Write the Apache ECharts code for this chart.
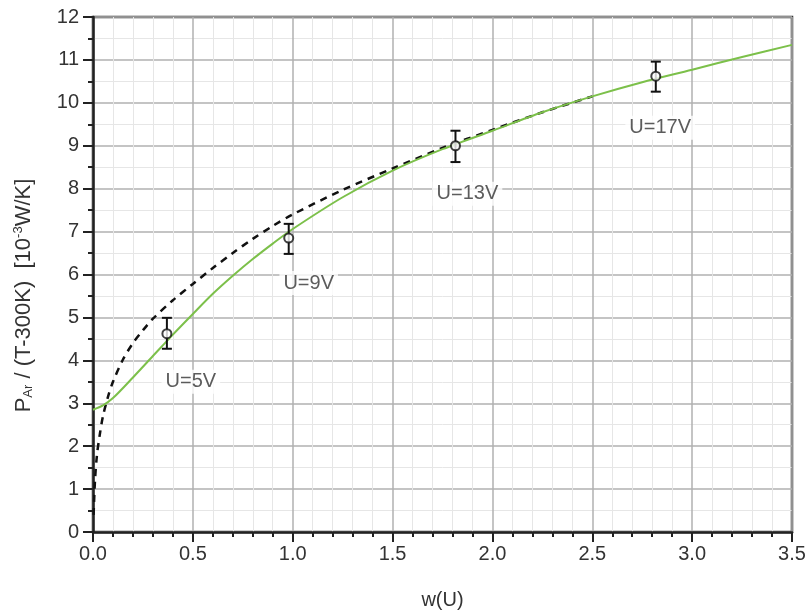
<!DOCTYPE html>
<html>
<head>
<meta charset="utf-8">
<script src="https://cdn.jsdelivr.net/npm/echarts@6/dist/echarts.min.js"></script>
<style>
  html, body { margin: 0; padding: 0; background: #fff; }
  #chart { width: 810px; height: 615px; }
</style>
</head>
<body>
<div id="chart"></div>
<script>
// measured points with error bars
const pointX = [0.37, 0.98, 1.815, 2.818]
const pointY = [4.62, 6.85, 9.0, 10.62]
const errLow = [4.27, 6.48, 8.62, 10.26]
const errHigh = [4.99, 7.18, 9.35, 10.96]

// voltage labels
const labelText = ['U=5V', 'U=9V', 'U=13V', 'U=17V']
const labelX = [0.49, 1.08, 1.875, 2.84]
const labelY = [3.5, 5.8, 7.88, 9.42]

// green fit curve
const fitX = [0, 0.05, 0.1, 0.2, 0.3, 0.4, 0.5, 0.6, 0.7, 0.8, 0.9, 1.0, 1.25, 1.5, 1.75, 2.0, 2.25, 2.5, 2.75, 3.0, 3.25, 3.5]
const fitY = [2.85, 2.95, 3.12, 3.6, 4.1, 4.6, 5.08, 5.55, 5.97, 6.36, 6.72, 7.06, 7.8, 8.42, 8.92, 9.35, 9.78, 10.15, 10.48, 10.77, 11.07, 11.35]

// dashed model curve
const modelX = [0.003, 0.01, 0.02, 0.035, 0.05, 0.075, 0.1, 0.15, 0.2, 0.25, 0.3, 0.4, 0.5, 0.6, 0.7, 0.8, 0.9, 1.0, 1.25, 1.5, 1.75, 2.0, 2.25, 2.5]
const modelY = [0.4, 1.2, 1.8, 2.3, 2.7, 3.15, 3.5, 4.02, 4.4, 4.7, 4.97, 5.4, 5.78, 6.15, 6.5, 6.83, 7.13, 7.4, 7.97, 8.47, 8.95, 9.37, 9.78, 10.15]

const xTicks = [0, 0.5, 1.0, 1.5, 2.0, 2.5, 3.0, 3.5]

const myChart = echarts.init(document.getElementById('chart'))

const zip = (a, b) => a.map((v, i) => [v, b[i]])

const option = {
  animation: false,
  grid: {
    left: 93,
    right: 18,
    top: 17,
    bottom: 78,
    show: true,
    borderColor: '#333',
    borderWidth: 2.5,
    backgroundColor: '#fff'
  },
  xAxis: {
    type: 'value',
    min: 0,
    max: 3.5,
    interval: 0.5,
    name: 'w(U)',
    nameLocation: 'middle',
    nameGap: 58,
    nameTextStyle: { fontFamily: 'Liberation Sans', fontSize: 20, color: '#333' },
    axisLine: { lineStyle: { color: '#222', width: 2.5 } },
    axisTick: { inside: false, length: 10, lineStyle: { color: '#222', width: 2 } },
    minorTick: { show: true, splitNumber: 5, length: 5, lineStyle: { color: '#222', width: 2 } },
    axisLabel: {
      margin: 12,
      fontFamily: 'Liberation Sans',
      fontSize: 20,
      color: '#333',
      formatter: v => xTicks.indexOf(v) >= 0 ? v.toFixed(1) : ''
    },
    splitLine: { show: true, lineStyle: { color: '#b0b0b0', width: 1.5 } },
    minorSplitLine: { show: true, lineStyle: { color: '#e6e6e6', width: 1 } }
  },
  yAxis: {
    type: 'value',
    min: 0,
    max: 12,
    interval: 1,
    name: '{b|P}{sub|Ar}{b| / (T-300K)  [10}{sup|-3}{b|W/K]}',
    nameLocation: 'middle',
    nameGap: 58,
    nameTextStyle: {
      padding: [0, 42, 0, 0],
      rich: {
        b: { fontFamily: 'Liberation Sans', fontSize: 22, color: '#333' },
        sub: { fontFamily: 'Liberation Sans', fontSize: 13, color: '#333', verticalAlign: 'bottom', padding: [10, 0, 0, 0] },
        sup: { fontFamily: 'Liberation Sans', fontSize: 13, color: '#333', verticalAlign: 'top', padding: [0, 0, 10, 0] }
      }
    },
    axisLine: { lineStyle: { color: '#222', width: 2.5 } },
    axisTick: { inside: false, length: 10, lineStyle: { color: '#222', width: 2 } },
    minorTick: { show: true, splitNumber: 2, length: 5, lineStyle: { color: '#222', width: 2 } },
    axisLabel: {
      margin: 14,
      fontFamily: 'Liberation Sans',
      fontSize: 20,
      color: '#333'
    },
    splitLine: { show: true, lineStyle: { color: '#b0b0b0', width: 1.5 } },
    minorSplitLine: { show: true, lineStyle: { color: '#e6e6e6', width: 1 } }
  },
  series: [
    {
      name: 'model',
      type: 'line',
      smooth: 0.3,
      showSymbol: false,
      data: zip(modelX, modelY),
      lineStyle: { color: '#111', width: 2.5, type: [7, 6] },
      z: 3
    },
    {
      name: 'fit',
      type: 'line',
      smooth: 0.3,
      showSymbol: false,
      data: zip(fitX, fitY),
      lineStyle: { color: '#7cc04a', width: 2 },
      z: 4
    },
    {
      name: 'labels',
      type: 'scatter',
      symbolSize: 0,
      data: labelText.map((t, i) => ({ name: t, value: [labelX[i], labelY[i]] })),
      label: {
        show: true,
        position: 'inside',
        formatter: p => p.name,
        fontFamily: 'Liberation Sans',
        fontSize: 20,
        color: '#333',
        backgroundColor: '#fff',
        padding: [2, 4]
      },
      z: 2
    },
    {
      name: 'errors',
      type: 'custom',
      data: pointX.map((x, i) => [x, errLow[i], errHigh[i]]),
      renderItem: function (params, api) {
        const lo = api.coord([api.value(0), api.value(1)])
        const hi = api.coord([api.value(0), api.value(2)])
        const w = 5
        const style = { stroke: '#111', lineWidth: 2 }
        return {
          type: 'group',
          children: [
            { type: 'line', shape: { x1: lo[0], y1: lo[1], x2: hi[0], y2: hi[1] }, style: style },
            { type: 'line', shape: { x1: lo[0] - w, y1: lo[1], x2: lo[0] + w, y2: lo[1] }, style: style },
            { type: 'line', shape: { x1: hi[0] - w, y1: hi[1], x2: hi[0] + w, y2: hi[1] }, style: style }
          ]
        }
      },
      z: 5
    },
    {
      name: 'points',
      type: 'scatter',
      symbol: 'circle',
      symbolSize: 9,
      data: zip(pointX, pointY),
      itemStyle: { color: '#fff', borderColor: '#111', borderWidth: 2 },
      z: 6
    }
  ]
}

myChart.setOption(option)
</script>
</body>
</html>
